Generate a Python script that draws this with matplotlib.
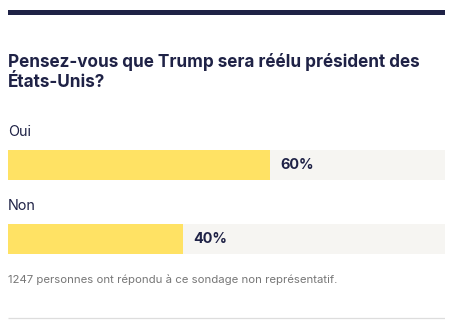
import matplotlib
matplotlib.use("Agg")
import matplotlib.pyplot as plt

title_lines = ["Pensez-vous que Trump sera réélu président des", "États-Unis?"]
categories = ["Oui", "Non"]
values = [60, 40]
footnote = "1247 personnes ont répondu à ce sondage non représentatif."

NAVY = "#1f2246"
YELLOW = "#ffe264"
TRACK = "#f6f5f2"
GRAY = "#777777"
FONT = "Inter"

W, H = 456, 330
fig = plt.figure(figsize=(W / 100, H / 100), dpi=100)
fig.patch.set_facecolor("white")
left, right = 8 / W, 445 / W
ax = fig.add_axes([left, 0, right - left, 1])
ax.set_xlim(0, 100)
ax.set_ylim(H, 0)
ax.axis("off")

# top rule
ax.barh(12.3, 100, height=4.6, left=0, color=NAVY, linewidth=0)

# title
for j, line in enumerate(title_lines):
    ax.text(0, 66.7 + j * 20.6, line, fontsize=12.35, fontweight="bold", color=NAVY,
            family=FONT, va="baseline", ha="left")

row0, step = 165, 74
for i, (cat, v) in enumerate(zip(categories, values)):
    yc = row0 + i * step
    ax.text(0, yc - 28.5, cat, fontsize=10.4, color=NAVY, family=FONT, va="baseline", ha="left")
    ax.barh(yc, 100, height=30, left=0, color=TRACK, linewidth=0)
    ax.barh(yc, v, height=30, left=0, color=YELLOW, linewidth=0)
    ax.text(v + 2.3, yc, f"{v}%", fontsize=10.4, fontweight="bold", color=NAVY,
            family=FONT, va="center", ha="left")

ax.text(0, 283.3, footnote, fontsize=8.2, color=GRAY, family=FONT, va="baseline", ha="left")

# bottom rule
ax.plot([0, 100], [318, 318], color="#dddddd", linewidth=0.9, solid_capstyle="butt")

fig.savefig("out.png", dpi=100, facecolor="white")
